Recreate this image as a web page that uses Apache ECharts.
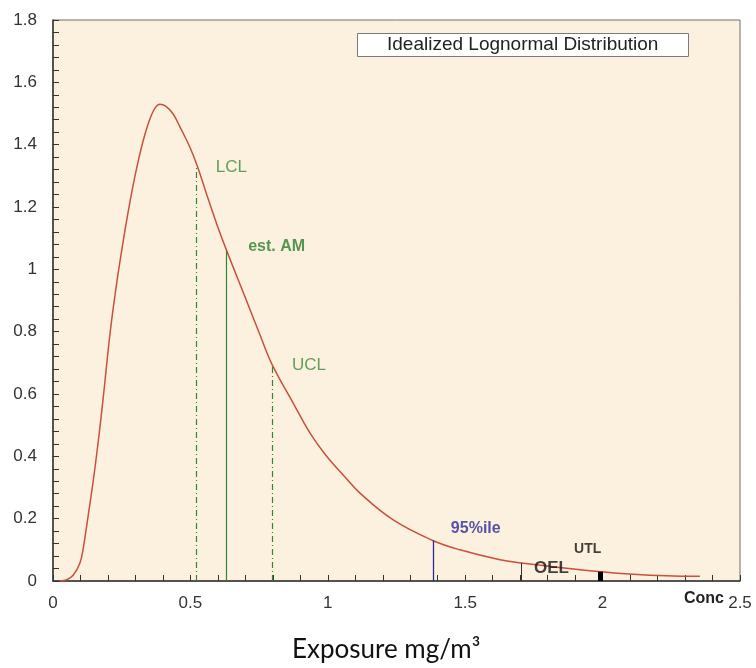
<!DOCTYPE html>
<html>
<head>
	<meta http-equiv="Content-Type" content="text/html; charset=UTF-8">
	<title>Lognormal</title>
	<script src="https://cdn.jsdelivr.net/npm/echarts@6/dist/echarts.min.js"></script>
	<style>
		body { margin: 0; background: #fff; }
	</style>
</head>
<body>

	<div id="main" style="width: 756px;height:668px;"></div>

	<script>

		// curve points (conc, density)
		var curveX = [0.025, 0.05, 0.074, 0.098, 0.11, 0.128, 0.147, 0.165, 0.183, 0.207,
			0.226, 0.244, 0.274, 0.305, 0.335, 0.365, 0.389, 0.41, 0.436, 0.462, 0.499,
			0.527, 0.559, 0.596, 0.632, 0.695, 0.753, 0.797, 0.874, 0.935, 0.996,
			1.06, 1.117, 1.238, 1.382, 1.481, 1.627, 1.705, 1.869, 1.993, 2.112,
			2.233, 2.354];
		var curveY = [0, 0.004, 0.019, 0.058, 0.105, 0.21, 0.325, 0.45, 0.59, 0.79,
			0.92, 1.027, 1.187, 1.327, 1.434, 1.508, 1.53, 1.524, 1.5, 1.457, 1.39,
			1.327, 1.241, 1.145, 1.06, 0.92, 0.79, 0.695, 0.571, 0.475, 0.40,
			0.336, 0.282, 0.196, 0.13, 0.10, 0.068, 0.058, 0.041, 0.03, 0.022,
			0.017, 0.015];

		// vertical markers
		var markerNames = ['LCL', 'est. AM', 'UCL', '95%ile', 'OEL', 'UTL'];
		var markerX = [0.522, 0.632, 0.797, 1.382, 1.705, 1.993];
		var markerY = [1.335, 1.06, 0.695, 0.13, 0.058, 0.03];

		var xTicks = [0, 0.5, 1, 1.5, 2, 2.5];
		var yTicks = [0, 0.2, 0.4, 0.6, 0.8, 1, 1.2, 1.4, 1.6, 1.8];

		var markerLine = [
			{ color: '#2f8a2f', type: [6, 3, 1, 3], width: 1.2 },
			{ color: '#2f8a2f', type: 'solid', width: 1.2 },
			{ color: '#2f8a2f', type: [6, 3, 1, 3], width: 1.2 },
			{ color: '#2a2a9a', type: 'solid', width: 1.3 },
			{ color: '#333333', type: 'solid', width: 1 },
			{ color: '#000000', type: 'solid', width: 5 }
		];
		var markerLabel = [
			{ color: '#3a8a3a', fontSize: 17, fontWeight: 'normal', offset: [35, 2] },
			{ color: '#2a7f2a', fontSize: 16, fontWeight: 'bold', offset: [50, -4] },
			{ color: '#3a8a3a', fontSize: 17, fontWeight: 'normal', offset: [37, 1] },
			{ color: '#2a2a9a', fontSize: 16, fontWeight: 'bold', offset: [43, -12] },
			{ color: '#111111', fontSize: 17, fontWeight: 'bold', offset: [30, 5] },
			{ color: '#111111', fontSize: 14, fontWeight: 'bold', offset: [-13, -23] }
		];

		var curveData = [];
		for (var i = 0; i < curveX.length; i++) {
			curveData.push([curveX[i], curveY[i]]);
		}

		var lineData = [];
		var labelData = [];
		for (var k = 0; k < markerX.length; k++) {
			lineData.push([
				{ coord: [markerX[k], 0], lineStyle: markerLine[k] },
				{ coord: [markerX[k], markerY[k]], lineStyle: markerLine[k] }
			]);
			labelData.push({
				value: [markerX[k], markerY[k]],
				name: markerNames[k],
				label: {
					show: true,
					position: 'inside',
					formatter: markerNames[k],
					color: markerLabel[k].color,
					fontSize: markerLabel[k].fontSize,
					fontWeight: markerLabel[k].fontWeight,
					offset: markerLabel[k].offset
				}
			});
		}

		var chartDom = document.getElementById('main');
		var myChart = echarts.init(chartDom);

		var axisFont = { fontFamily: 'Liberation Sans', fontSize: 17, color: '#333' };

		var option = {
			animation: false,
			textStyle: { fontFamily: 'Liberation Sans' },
			title: [
				{
					text: 'Idealized Lognormal Distribution',
					left: 357,
					top: 34,
					padding: [2, 30, 2, 30],
					borderWidth: 1,
					borderColor: '#7a7a7a',
					backgroundColor: '#ffffff',
					textStyle: { fontFamily: 'Liberation Sans', fontSize: 19, fontWeight: 'normal', color: '#222', lineHeight: 18 }
				},
				{
					text: 'Exposure mg/m³',
					left: 287,
					top: 632,
					textStyle: { fontFamily: 'Lato', fontSize: 26, fontWeight: 'normal', color: '#111' }
				}
			],
			grid: {
				left: 53,
				right: 16,
				top: 20,
				bottom: 87,
				outerBoundsMode: 'none',
				containLabel: false,
				show: true,
				backgroundColor: '#fcf1df',
				borderColor: '#6e6e6e',
				borderWidth: 1
			},
			xAxis: {
				type: 'value',
				min: xTicks[0],
				max: xTicks[xTicks.length - 1],
				interval: 0.5,
				name: 'Conc',
				nameLocation: 'end',
				nameGap: -56,
				nameMoveOverlap: false,
				nameTextStyle: { fontFamily: 'Liberation Sans', fontSize: 16, fontWeight: 'bold', color: '#222', verticalAlign: 'top', padding: [10, 0, 0, 0] },
				axisLine: { lineStyle: { color: '#333', width: 1.5 } },
				axisTick: { inside: true, length: 6, lineStyle: { color: '#333' } },
				minorTick: { show: true, splitNumber: 5, length: 6, lineStyle: { color: '#333' } },
				splitLine: { show: false },
				axisLabel: Object.assign({ margin: 14 }, axisFont)
			},
			yAxis: {
				type: 'value',
				min: yTicks[0],
				max: yTicks[yTicks.length - 1],
				interval: 0.2,
				axisLine: { show: true, lineStyle: { color: '#333', width: 1.5 } },
				axisTick: { show: true, inside: true, length: 6, lineStyle: { color: '#333' } },
				minorTick: { show: true, splitNumber: 5, length: 6, lineStyle: { color: '#333' } },
				splitLine: { show: false },
				axisLabel: Object.assign({ margin: 16 }, axisFont)
			},
			series: [
				{
					name: 'Idealized Lognormal Distribution',
					type: 'line',
					data: curveData,
					smooth: 0.4,
					showSymbol: false,
					lineStyle: { color: '#c8503c', width: 1.5 },
					markLine: {
						silent: true,
						symbol: ['none', 'none'],
						label: { show: false },
						data: lineData
					},
					z: 3
				},
				{
					name: 'labels',
					type: 'scatter',
					data: labelData,
					symbolSize: 1,
					itemStyle: { color: 'transparent' },
					z: 4
				}
			]
		};

		option && myChart.setOption(option);

	</script>

</body>
</html>
